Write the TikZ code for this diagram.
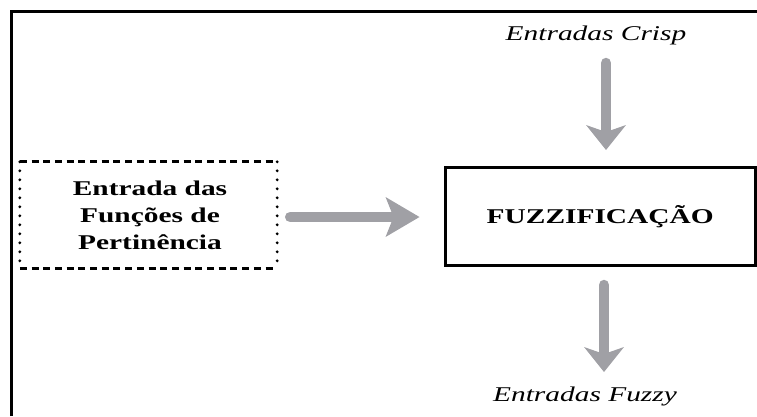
\documentclass[tikz,border=0pt]{standalone}
\usepackage{fontspec}
\setmainfont[FakeStretch=1.4]{Liberation Serif}
\usetikzlibrary{arrows.meta}
\definecolor{arrowgray}{RGB}{160,160,165}
\begin{document}
\begin{tikzpicture}[x=1pt,y=-1pt,
  frameline/.style={line width=3pt},
  bigarrow/.style={draw=arrowgray, line width=10.5pt, line cap=round},
  headv/.style={-{Stealth[length=25pt, width=40pt, inset=7pt, line width=0pt]}},
  headh/.style={-{Stealth[length=34pt, width=40pt, inset=8pt, line width=0pt]}},
  dashline/.style={line width=2.8pt, dash pattern=on 7pt off 4.7pt},
  dotline/.style={line width=3.2pt, line cap=round, dash pattern=on 0pt off 9pt},
  boldtxt/.style={font=\fontsize{21}{27}\selectfont\bfseries},
  ittxt/.style={font=\fontsize{21}{27}\selectfont\itshape}
]
\useasboundingbox (0,0) rectangle (757,416);
% outer frame (left and top only)
\draw[frameline] (11.5,416) -- (11.5,11.5) -- (757,11.5);

% fuzzification box
\node[draw, line width=3pt, minimum width=310.5pt, minimum height=98pt, inner sep=0pt,
      boldtxt] (fuzz) at (600.25,216.5) {FUZZIFICAÇÃO};

% membership-function box
\node[minimum width=257pt, minimum height=106pt, inner sep=0pt] (entrada) at (148.5,215) {};
\node[inner sep=0pt, align=center, boldtxt] (entradatxt) at (150,215.5)
      {Entrada das\\Funções de\\Pertinência};
\draw[dashline] (entrada.north west) -- (entrada.north east);
\draw[dashline] (entrada.south west) -- (entrada.south east);
\draw[dotline] (entrada.north west) -- (entrada.south west);
\draw[dotline] (entrada.north east) -- (entrada.south east);

% labels
\node[ittxt, anchor=base, inner sep=0pt] (crisp) at (596,40) {Entradas Crisp};
\node[ittxt, anchor=base, inner sep=0pt] (fuzzy) at (585,401) {Entradas Fuzzy};

% arrows
\coordinate (a1) at (606,63);
\coordinate (a2) at (606,150);
\coordinate (b1) at (604,285);
\coordinate (b2) at (604,372);
\draw[bigarrow, headv] (a1) -- (a2);
\draw[bigarrow, headv] (b1) -- (b2);
\draw[bigarrow, headh] ([xshift=13pt,yshift=-2pt]entrada.east) -- ([xshift=-24pt,yshift=-0.5pt]fuzz.west);
\end{tikzpicture}
\end{document}
